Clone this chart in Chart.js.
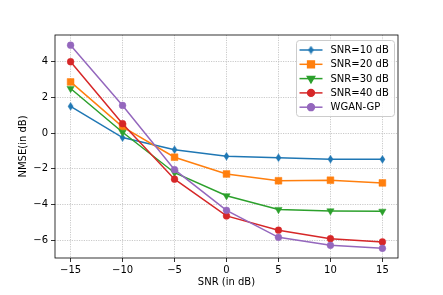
<!DOCTYPE html>
<html>
<head>
<meta charset="utf-8">
<script src="https://cdn.jsdelivr.net/npm/chart.js@4.4.0/dist/chart.umd.min.js"></script>
<style>
  html, body { margin: 0; padding: 0; background: #fff; }
  #wrap { width: 443px; height: 295px; }
</style>
</head>
<body>
<div id="wrap"><canvas id="nmseChart" width="443" height="295"></canvas></div>
<script>
const snrAxis = [-15, -10, -5, 0, 5, 10, 15];
const xTicks = [-15, -10, -5, 0, 5, 10, 15];
const yTicks = [-6, -4, -2, 0, 2, 4];

const seriesNames = ["SNR=10 dB", "SNR=20 dB", "SNR=30 dB", "SNR=40 dB", "WGAN-GP"];
const snr10 = [1.5, -0.25, -0.93, -1.3, -1.38, -1.46, -1.47];
const snr20 = [2.87, 0.35, -1.35, -2.29, -2.67, -2.64, -2.79];
const snr30 = [2.5, 0.05, -2.22, -3.51, -4.28, -4.36, -4.38];
const snr40 = [4.0, 0.53, -2.58, -4.64, -5.44, -5.92, -6.1];
const wgan = [4.93, 1.55, -2.05, -4.33, -5.84, -6.29, -6.46];

const colors = ["#1f77b4", "#ff7f0e", "#2ca02c", "#d62728", "#9467bd"];

// thin diamond like matplotlib 'd'
function thinDiamond(color) {
    const c = document.createElement("canvas");
    c.width = 9; c.height = 9;
    const g = c.getContext("2d");
    g.fillStyle = color;
    g.beginPath();
    g.moveTo(4.5, 0.3);
    g.lineTo(7.3, 4.5);
    g.lineTo(4.5, 8.7);
    g.lineTo(1.7, 4.5);
    g.closePath();
    g.fill();
    return c;
}

const markers = [
    { style: thinDiamond(colors[0]), radius: 4, rotation: 0 },
    { style: "rect", radius: 4.8, rotation: 0 },
    { style: "triangle", radius: 4.2, rotation: 180 },
    { style: "circle", radius: 3.4, rotation: 0 },
    { style: "circle", radius: 3.4, rotation: 0 }
];

const allValues = [snr10, snr20, snr30, snr40, wgan];
const font = { family: "'DejaVu Sans', sans-serif", size: 10 };
const minus = v => String(v).replace("-", "\u2212");

const frame = {
    id: "frame",
    afterDatasetsDraw(chart) {
        const { ctx, chartArea: a } = chart;
        ctx.save();
        ctx.strokeStyle = "#000";
        ctx.lineWidth = 0.8;
        ctx.strokeRect(a.left, a.top, a.right - a.left, a.bottom - a.top);

        // legend box
        const bx = 296, by = 40, bw = 98, bh = 76;
        ctx.fillStyle = "rgba(255,255,255,0.85)";
        ctx.strokeStyle = "#cccccc";
        ctx.lineWidth = 1;
        ctx.beginPath();
        ctx.roundRect(bx + 0.5, by + 0.5, bw, bh, 3);
        ctx.fill();
        ctx.stroke();

        const rowY = [50, 64.3, 78.6, 92.9, 107.2];
        ctx.font = "10px 'DejaVu Sans', sans-serif";
        ctx.textBaseline = "middle";
        seriesNames.forEach((name, i) => {
            const y = rowY[i];
            ctx.strokeStyle = colors[i];
            ctx.lineWidth = 1.5;
            ctx.beginPath();
            ctx.moveTo(299.5, y);
            ctx.lineTo(322.5, y);
            ctx.stroke();
            const m = markers[i];
            ctx.fillStyle = colors[i];
            ctx.strokeStyle = colors[i];
            Chart.helpers.drawPoint(ctx, {
                pointStyle: m.style, radius: m.radius, rotation: m.rotation, borderWidth: 0.5
            }, 311, y);
            ctx.fillStyle = "#000";
            ctx.fillText(name, 330.5, y + 0.5);
        });
        ctx.restore();
    }
};

const datasets = allValues.map((vals, i) => ({
    label: seriesNames[i],
    data: snrAxis.map((x, j) => ({ x: x, y: vals[j] })),
    borderColor: colors[i],
    backgroundColor: colors[i],
    borderWidth: 1.5,
    pointStyle: markers[i].style,
    pointRadius: markers[i].radius,
    pointRotation: markers[i].rotation,
    pointBorderWidth: 0.5,
    order: 4 - i
}));

const gridOpts = {
    color: "#bdbdbd", lineWidth: 0.8,
    tickColor: "#000", tickLength: 4, tickBorderDash: [], tickWidth: 0.8
};

new Chart(document.getElementById("nmseChart"), {
    type: "line",
    data: { datasets: datasets },
    plugins: [frame],
    options: {
        responsive: false,
        animation: false,
        layout: { padding: { left: 0, top: 35, right: 45, bottom: 0 } },
        plugins: { legend: { display: false }, tooltip: { enabled: false } },
        scales: {
            x: {
                type: "linear",
                min: -16.5,
                max: 16.5,
                afterBuildTicks: s => { s.ticks = xTicks.map(v => ({ value: v })); },
                afterFit: s => { s.height = 37; },
                ticks: { font: font, color: "#000", padding: 2, maxRotation: 0, callback: minus },
                grid: gridOpts,
                border: { display: false, dash: [1.2, 1.2] },
                title: {
                    display: true, text: "SNR (in dB)", font: font, color: "#000",
                    padding: { top: 0, bottom: 7 }
                }
            },
            y: {
                min: -7,
                max: 5.5,
                afterBuildTicks: s => { s.ticks = yTicks.map(v => ({ value: v })); },
                afterFit: s => { s.width = 55; },
                ticks: { font: font, color: "#000", padding: 3, callback: minus },
                grid: gridOpts,
                border: { display: false, dash: [1.2, 1.2] },
                title: {
                    display: true, text: "NMSE(in dB)", font: font, color: "#000",
                    padding: { top: 17, bottom: 0 }
                }
            }
        }
    }
});
</script>
</body>
</html>
